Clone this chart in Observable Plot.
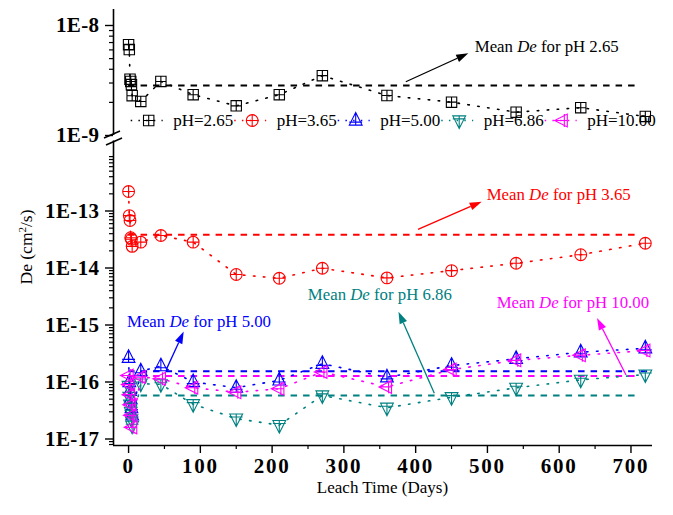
<!DOCTYPE html>
<html><head><meta charset="utf-8">
<script src="https://cdn.jsdelivr.net/npm/d3@7"></script>
<script src="https://cdn.jsdelivr.net/npm/@observablehq/plot@0.6"></script>
<style>
body{margin:0;background:#fff;}
#chart{position:relative;width:673px;height:515px;font-family:"Liberation Serif","Times New Roman",serif;background:#fff;}
#chart svg{position:absolute;left:0;overflow:visible;background:transparent;}
</style></head><body><div id="chart"></div>
<script>
// ---------------- data ----------------
const days = [0, 1, 2, 3, 4, 5, 17, 45, 90, 150, 210, 270, 360, 450, 540, 630, 720];
const de_pH265 = [6.7e-9, 6.05e-9, 3.25e-9, 3.1e-9, 2.9e-9, 2.3e-9, 2.04e-9, 3.1e-9, 2.35e-9, 1.86e-9, 2.35e-9, 3.5e-9, 2.31e-9, 2.01e-9, 1.63e-9, 1.79e-9, 1.49e-9];
const de_pH365 = [2.2e-13, 8.3e-14, 6.8e-14, 3.4e-14, 3.2e-14, 2.4e-14, 2.84e-14, 3.72e-14, 2.84e-14, 7.7e-15, 6.6e-15, 9.9e-15, 6.7e-15, 9.0e-15, 1.21e-14, 1.71e-14, 2.72e-14];
const de_pH500 = [2.66e-16, 1.0e-16, 7.0e-17, 5.0e-17, 3.5e-17, 2.6e-17, 1.55e-16, 1.9e-16, 1.0e-16, 7.95e-17, 1.07e-16, 2.09e-16, 1.21e-16, 1.94e-16, 2.55e-16, 3.33e-16, 3.9e-16];
const de_pH686 = [8.5e-17, 5.5e-17, 4.0e-17, 3.0e-17, 2.2e-17, 1.7e-17, 9.35e-17, 9.1e-17, 4.07e-17, 2.28e-17, 1.75e-17, 5.8e-17, 3.53e-17, 5.4e-17, 7.9e-17, 1.09e-16, 1.35e-16];
const de_pH1000 = [1.3e-16, 9.0e-17, 6.0e-17, 4.0e-17, 2.6e-17, 1.6e-17, 1.22e-16, 1.14e-16, 7.95e-17, 6.6e-17, 7.6e-17, 1.5e-16, 8.2e-17, 1.65e-16, 2.4e-16, 2.94e-16, 3.56e-16];
const seriesNames = ["pH=2.65", "pH=3.65", "pH=5.00", "pH=6.86", "pH=10.00"];
const phLabels = ["2.65", "3.65", "5.00", "6.86", "10.00"];
const meanDe = [2.85e-9, 3.82e-14, 1.55e-16, 5.8e-17, 1.27e-16];
const meanEndDay = [710, 713, 730, 710, 710];
const xTicks = [0, 100, 200, 300, 400, 500, 600, 700];
const xMinorTicks = [50, 150, 250, 350, 450, 550, 650];
const yTicksTop = [1e-9, 1e-8];
const yTicksBottom = [1e-17, 1e-16, 1e-15, 1e-14, 1e-13];
const yTickLabel = v => "1E" + Math.round(Math.log10(v));

// ---------------- styling ----------------
const colors = ["#000000", "#ff0000", "#0000ff", "#008080", "#ff00ff"];
const FONT = "Liberation Serif, Times New Roman, serif";

function mk(fn) { return {draw(c, size) { fn(c, Math.sqrt(size / Math.PI)); }}; }
const symSquare = mk((c, s) => {
  c.moveTo(-s, -s); c.lineTo(s, -s); c.lineTo(s, s); c.lineTo(-s, s); c.closePath();
  c.moveTo(-s, 0); c.lineTo(s, 0); c.moveTo(0, -s); c.lineTo(0, s);
});
const symCircle = mk((c, r) => {
  c.moveTo(r, 0); c.arc(0, 0, r, 0, 2 * Math.PI);
  c.moveTo(-r, 0); c.lineTo(r, 0); c.moveTo(0, -r); c.lineTo(0, r);
});
function triPts(r) { return {a: r * 1.25, b: r * 0.72, w: r}; }
const symTriUp = mk((c, r) => {
  const {a, b, w} = triPts(r);
  c.moveTo(0, -a); c.lineTo(w, b); c.lineTo(-w, b); c.closePath();
  c.moveTo(0, -a); c.lineTo(0, b); c.moveTo(-w, 0.25 * r); c.lineTo(w, 0.25 * r);
});
const symTriDown = mk((c, r) => {
  const {a, b, w} = triPts(r);
  c.moveTo(0, a); c.lineTo(w, -b); c.lineTo(-w, -b); c.closePath();
  c.moveTo(0, a); c.lineTo(0, -b); c.moveTo(-w, -0.25 * r); c.lineTo(w, -0.25 * r);
});
const symTriLeft = mk((c, r) => {
  const {a, b, w} = triPts(r);
  c.moveTo(-a, 0); c.lineTo(b, w); c.lineTo(b, -w); c.closePath();
  c.moveTo(-a, 0); c.lineTo(b, 0); c.moveTo(0.25 * r, -w); c.lineTo(0.25 * r, w);
});
const symbols = [symSquare, symCircle, symTriUp, symTriDown, symTriLeft];
const radii = [5.2, 5.9, 6.4, 6.4, 6.4];

const allValues = [de_pH265, de_pH365, de_pH500, de_pH686, de_pH1000];
const rows = allValues.map((vals, i) => days.map((d, j) => ({series: seriesNames[i], day: d, de: vals[j]})));

const W = 673, ML = 113, MR = 21;
const xDomain = [-21, 730];

function seriesMarks(i) {
  return [
    Plot.line(rows[i], {x: "day", y: "de", stroke: colors[i], strokeWidth: 1.6, strokeDasharray: "1.5,8.5"}),
    Plot.dot(rows[i], {x: "day", y: "de", symbol: symbols[i], r: radii[i], stroke: colors[i], fill: "none", strokeWidth: 1.1})
  ];
}
function meanMark(i) {
  return Plot.ruleY([{y: meanDe[i], x1: 0, x2: meanEndDay[i]}], {y: "y", x1: "x1", x2: "x2", stroke: colors[i], strokeWidth: 2, strokeDasharray: "6.5,6"});
}
const axisStyle = {fontFamily: FONT, fontSize: "21px", fontWeight: "bold", color: "black", background: "transparent", overflow: "visible"};

// ---------------- top panel ----------------
const topTopLog = -8 + 16 / 110;
const topPlot = Plot.plot({
  width: W, height: 140, marginLeft: ML, marginRight: MR, marginTop: 9, marginBottom: 5,
  style: axisStyle,
  x: {domain: xDomain, axis: null},
  y: {type: "log", domain: [1e-9, Math.pow(10, topTopLog)], axis: null},
  marks: [
    Plot.ruleX([xDomain[0]], {stroke: "black", strokeWidth: 1.6}),
    Plot.axisY({ticks: yTicksTop, tickSize: 8, tickPadding: 6, tickFormat: yTickLabel, strokeWidth: 1.4, fontSize: 21, fontWeight: "bold"}),
    Plot.axisY({ticks: d3.range(2, 10).map(k => k * 1e-9), tickSize: 4, tickFormat: () => "", strokeWidth: 1.2}),
    meanMark(0),
    ...seriesMarks(0)
  ]
});
topPlot.style.top = "0px";

// ---------------- bottom panel ----------------
const botMinLog = -17 - 6.5 / 57;
const botMaxLog = -13 + (210.5 - 154.07) / 57;
const botAxisTopLog = -13 + (210.5 - 140.5) / 57;
const minorBottom = [];
for (let e = -18; e <= -13; e++) for (let k = 2; k <= 9; k++) {
  const v = k * Math.pow(10, e);
  if (Math.log10(v) > botMinLog && Math.log10(v) < botMaxLog) minorBottom.push(v);
}
const botPlot = Plot.plot({
  width: W, height: 375, marginLeft: ML, marginRight: MR, marginTop: 14.07, marginBottom: 70,
  style: axisStyle,
  x: {domain: xDomain, axis: null},
  y: {type: "log", domain: [Math.pow(10, botMinLog), Math.pow(10, botMaxLog)], axis: null},
  marks: [
    Plot.ruleX([{x: xDomain[0], y1: Math.pow(10, botMinLog), y2: Math.pow(10, botAxisTopLog)}], {x: "x", y1: "y1", y2: "y2", stroke: "black", strokeWidth: 1.6}),
    Plot.ruleY([Math.pow(10, botMinLog)], {stroke: "black", strokeWidth: 1.6}),
    Plot.axisY({ticks: yTicksBottom, tickSize: 8, tickPadding: 6, tickFormat: yTickLabel, strokeWidth: 1.4, fontSize: 21, fontWeight: "bold"}),
    Plot.axisY({ticks: minorBottom, tickSize: 4, tickFormat: () => "", strokeWidth: 1.2}),
    Plot.axisX({ticks: xTicks, tickSize: 8, tickPadding: 5, tickFormat: d => String(d), strokeWidth: 1.4, fontSize: 21, fontWeight: "bold"}),
    Plot.axisX({ticks: xMinorTicks, tickSize: 4, tickFormat: () => "", strokeWidth: 1.2}),
    meanMark(1), meanMark(2), meanMark(3), meanMark(4),
    ...seriesMarks(1), ...seriesMarks(2), ...seriesMarks(3), ...seriesMarks(4)
  ]
});
botPlot.style.top = "140px";

const chart = document.getElementById("chart");
chart.appendChild(topPlot);
chart.appendChild(botPlot);

// widen the bold tick labels a little, as in the original figure
d3.select(chart).selectAll('g[aria-label="y-axis tick label"] text').style("letter-spacing", "0.4px");
d3.select(botPlot).selectAll('g[aria-label="x-axis tick label"] text').style("letter-spacing", "1.8px");

// ---------------- annotations (positioned with the plots' scales) ----------------
function scalesOf(plot) {
  const sx = plot.scale("x"), sy = plot.scale("y");
  return [v => sx.apply(v), v => sy.apply(v)];
}
function annotate(plot, a) {
  const [fx, fy] = scalesOf(plot);
  const g = d3.select(plot).append("g");
  const x1 = fx(a.from[0]), y1 = fy(a.from[1]), x2 = fx(a.to[0]), y2 = fy(a.to[1]);
  const ang = Math.atan2(y2 - y1, x2 - x1), L = 12, H = 4;
  const bx = x2 - L * Math.cos(ang), by = y2 - L * Math.sin(ang);
  g.append("line").attr("x1", x1).attr("y1", y1).attr("x2", bx).attr("y2", by)
    .attr("stroke", a.color).attr("stroke-width", 1.3);
  g.append("path").attr("d", `M${x2},${y2}L${bx - H * Math.sin(ang)},${by + H * Math.cos(ang)}L${bx + H * Math.sin(ang)},${by - H * Math.cos(ang)}Z`)
    .attr("fill", a.color);
  const t = g.append("text").attr("x", fx(a.text[0])).attr("y", fy(a.text[1]))
    .attr("dy", "0.35em").attr("fill", a.color).attr("text-anchor", "start")
    .style("font-family", FONT).style("font-size", "16.8px").style("font-weight", "normal");
  t.append("tspan").text("Mean ");
  t.append("tspan").style("font-style", "italic").text("De");
  t.append("tspan").text(" for pH " + a.ph);
}
annotate(topPlot, {color: colors[0], ph: phLabels[0], text: [483, 6.44e-9], from: [387, 3.05e-9], to: [474, 5.53e-9]});
annotate(botPlot, {color: colors[1], ph: phLabels[1], text: [499.7, 1.92e-13], from: [404, 4.68e-14], to: [492.7, 1.43e-13]});
annotate(botPlot, {color: colors[2], ph: phLabels[2], text: [-1.5, 1.15e-15], from: [54, 1.7e-16], to: [77.5, 7.5e-16]});
annotate(botPlot, {color: colors[3], ph: phLabels[3], text: [250.5, 3.43e-15], from: [426.7, 6.2e-17], to: [376.8, 1.68e-15]});
annotate(botPlot, {color: colors[4], ph: phLabels[4], text: [513.6, 2.51e-15], from: [693.8, 1.3e-16], to: [653.4, 1.3e-15]});

// ---------------- overlay: legend, axis break, axis titles ----------------
const ov = d3.select(chart).append("svg").attr("width", W).attr("height", 515).style("top", "0px")
  .style("font-family", FONT);
// axis break marks
ov.append("line").attr("x1", 104).attr("y1", 138).attr("x2", 120).attr("y2", 131).attr("stroke", "black").attr("stroke-width", 1.5);
ov.append("line").attr("x1", 106).attr("y1", 145).attr("x2", 122).attr("y2", 138).attr("stroke", "black").attr("stroke-width", 1.5);
// legend
seriesNames.forEach((name, i) => {
  const cx = 148.7 + 103.5 * i, cy = 120.5;
  const g = ov.append("g");
  g.append("line").attr("x1", cx - 18).attr("x2", cx + 14).attr("y1", cy).attr("y2", cy)
    .attr("stroke", colors[i]).attr("stroke-width", 1.6).attr("stroke-dasharray", "1.5,6.2");
  g.append("path").attr("transform", `translate(${cx},${cy})`)
    .attr("d", d3.symbol(symbols[i], radii[i] * radii[i] * Math.PI)())
    .attr("fill", "none").attr("stroke", colors[i]).attr("stroke-width", 1.1);
  g.append("text").attr("x", cx + 24.5).attr("y", cy).attr("dy", "0.35em")
    .style("font-size", "17px").attr("fill", "black").text(name);
});
// axis titles
ov.append("text").attr("x", 382.5).attr("y", 487).attr("dy", "0.35em").attr("text-anchor", "middle")
  .style("font-size", "17px").text("Leach Time (Days)");
const yt = ov.append("text").attr("transform", "translate(26,247) rotate(-90)").attr("dy", "0.35em")
  .attr("text-anchor", "middle").style("font-size", "17.5px");
yt.append("tspan").text("De (cm");
yt.append("tspan").attr("baseline-shift", "super").style("font-size", "11px").text("2");
yt.append("tspan").text("/s)");
</script></body></html>
